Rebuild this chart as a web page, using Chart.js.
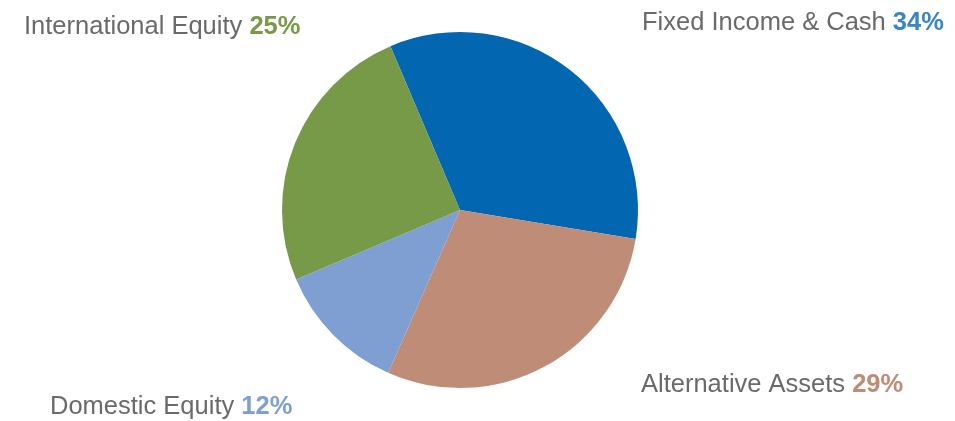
<!DOCTYPE html>
<html>
<head>
<meta charset="utf-8">
<script src="https://cdn.jsdelivr.net/npm/chart.js@4"></script>
<style>
  html, body { margin: 0; padding: 0; background: #fff; }
  #wrap { width: 955px; height: 421px; }
</style>
</head>
<body>
<div id="wrap"><canvas id="pie" width="955" height="421"></canvas></div>
<script>
const categories = ["Fixed Income & Cash", "Alternative Assets", "Domestic Equity", "International Equity"];
const shares     = [34, 29, 12, 25];
const sliceColors = ["#0366b0", "#bf8c78", "#7f9fd3", "#779a48"];
const pctColors   = ["#3a85c6", "#c08a74", "#7f9fd3", "#779a48"];

// label anchor spots (left x, baseline y)
const labelSpots = [[642, 30], [641, 392], [50, 414], [24, 34]];

const labelPlugin = {
  id: "sideLabels",
  afterDraw(chart) {
    const ctx = chart.ctx;
    ctx.save();
    ctx.textBaseline = "alphabetic";
    categories.forEach((name, i) => {
      const [x, y] = labelSpots[i];
      ctx.font = "25.5px 'Liberation Sans', Arial, sans-serif";
      ctx.fillStyle = "#6a6a6a";
      const txt = name + " ";
      ctx.fillText(txt, x, y);
      const w = ctx.measureText(txt).width;
      ctx.font = "bold 25.5px 'Liberation Sans', Arial, sans-serif";
      ctx.fillStyle = pctColors[i];
      ctx.fillText(shares[i] + "%", x + w, y);
    });
    ctx.restore();
  }
};

new Chart(document.getElementById("pie"), {
  type: "pie",
  data: {
    labels: categories,
    datasets: [{
      data: shares,
      backgroundColor: sliceColors,
      borderWidth: 0
    }]
  },
  options: {
    responsive: false,
    animation: false,
    rotation: -23,
    layout: { padding: { left: 282, right: 317, top: 32, bottom: 33 } },
    plugins: { legend: { display: false }, tooltip: { enabled: false } }
  },
  plugins: [labelPlugin]
});
</script>
</body>
</html>
